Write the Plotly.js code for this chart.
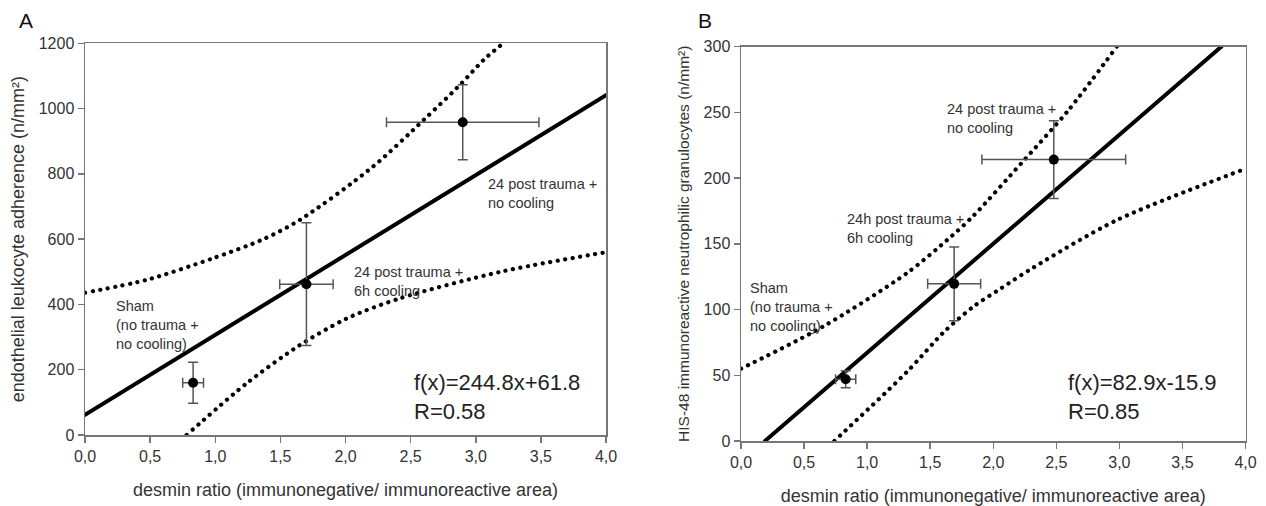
<!DOCTYPE html>
<html>
<head>
<meta charset="utf-8">
<script src="https://cdn.plot.ly/plotly-3.0.1.min.js"></script>
<style>
html,body{margin:0;padding:0;background:#fff;}
#chart{width:1266px;height:506px;}
#chart path.js-line{stroke-linecap:round !important;}
</style>
</head>
<body>
<div id="chart"></div>
<script>
// ---------- shared ticks ----------
const xTickVals = [0, 0.5, 1, 1.5, 2, 2.5, 3, 3.5, 4];
const xTickText = ['0,0', '0,5', '1,0', '1,5', '2,0', '2,5', '3,0', '3,5', '4,0'];
const groupNames = ['Sham', '24 post trauma + 6h cooling', '24 post trauma + no cooling'];

// ---------- panel A ----------
const aMeanX = [0.83, 1.70, 2.90];
const aMeanY = [160, 462, 958];
const aErrX = [0.08, 0.205, 0.585];
const aErrY = [63, 188, 115];
const aFitX = [0, 4];
const aFitY = [61.8, 1041];
const aUpperX = [0, 0.47, 0.98, 1.37, 1.65, 2.21, 2.6, 2.89, 3.06, 3.21];
const aUpperY = [436, 475, 541, 600, 659, 822, 965, 1077, 1149, 1200];
const aLowerX = [0.78, 1.24, 1.64, 2.01, 2.42, 3.19, 4.0];
const aLowerY = [0, 158, 273, 357, 419, 500, 560];
const aYTicks = [0, 200, 400, 600, 800, 1000, 1200];

// ---------- panel B ----------
const bMeanX = [0.83, 1.69, 2.48];
const bMeanY = [47, 119.5, 214];
const bErrX = [0.08, 0.21, 0.57];
const bErrY = [6.5, 28, 29.5];
const bFitX = [0.19, 3.81];
const bFitY = [0, 300];
const bUpperX = [0, 0.65, 1.32, 1.66, 1.84, 2.23, 2.6, 2.98];
const bUpperY = [55, 87, 128, 155, 171, 212, 252, 300];
const bLowerX = [0.74, 1.32, 1.61, 1.84, 2.06, 2.32, 2.98, 4.0];
const bLowerY = [0, 53, 83, 102, 116, 132, 168, 207];
const bYTicks = [0, 50, 100, 150, 200, 250, 300];

const FONT = 'Liberation Sans, Arial, sans-serif';
const W = 1266, H = 506;
const px = v => v / W;
const py = v => 1 - v / H;

const dotLine = {color: '#000', width: 4.2, dash: '0.1px,7.5px', shape: 'spline', smoothing: 0.8};
const fitLine = {color: '#000', width: 4};

function bandTrace(x, y, xa, ya) {
  return {x: x, y: y, xaxis: xa, yaxis: ya, type: 'scatter', mode: 'lines', line: dotLine, hoverinfo: 'skip', showlegend: false};
}
function fitTrace(x, y, xa, ya) {
  return {x: x, y: y, xaxis: xa, yaxis: ya, type: 'scatter', mode: 'lines', line: fitLine, showlegend: false};
}
function meanTrace(x, y, ex, ey, xa, ya) {
  return {
    x: x, y: y, xaxis: xa, yaxis: ya, type: 'scatter', mode: 'markers', text: groupNames,
    marker: {color: '#000', size: 10},
    error_x: {type: 'data', array: ex, visible: true, color: '#555', thickness: 1.5, width: 5},
    error_y: {type: 'data', array: ey, visible: true, color: '#555', thickness: 1.5, width: 5},
    showlegend: false, cliponaxis: false
  };
}

const data = [
  bandTrace(aUpperX, aUpperY, 'x', 'y'),
  bandTrace(aLowerX, aLowerY, 'x', 'y'),
  fitTrace(aFitX, aFitY, 'x', 'y'),
  meanTrace(aMeanX, aMeanY, aErrX, aErrY, 'x', 'y'),
  bandTrace(bUpperX, bUpperY, 'x2', 'y2'),
  bandTrace(bLowerX, bLowerY, 'x2', 'y2'),
  fitTrace(bFitX, bFitY, 'x2', 'y2'),
  meanTrace(bMeanX, bMeanY, bErrX, bErrY, 'x2', 'y2')
];

const axisCommon = {
  showline: true, mirror: true, linecolor: '#777', linewidth: 1.5,
  ticks: 'outside', ticklen: 6, tickcolor: '#777', tickwidth: 1.5,
  showgrid: false, zeroline: false,
  tickfont: {family: FONT, size: 16, color: '#333'}
};

const xTitle = 'desmin ratio (immunonegative/ immunoreactive area)';

const layout = {
  width: W, height: H,
  margin: {l: 0, r: 0, t: 0, b: 0},
  paper_bgcolor: '#fff', plot_bgcolor: '#fff',
  showlegend: false,
  font: {family: FONT, color: '#333'},
  xaxis: Object.assign({}, axisCommon, {
    domain: [px(85), px(606)], range: [0, 4], tickvals: xTickVals, ticktext: xTickText, anchor: 'y',
    title: {text: xTitle, font: {family: FONT, size: 18, color: '#333'}, standoff: 19}
  }),
  yaxis: Object.assign({}, axisCommon, {
    domain: [py(435), py(43.3)], range: [0, 1200], tickvals: aYTicks, anchor: 'x',
    title: {text: 'endothelial leukocyte adherence (n/mm²)', font: {family: FONT, size: 18, color: '#333'}, standoff: 9}
  }),
  xaxis2: Object.assign({}, axisCommon, {
    domain: [px(741), px(1245.5)], range: [0, 4], tickvals: xTickVals, ticktext: xTickText, anchor: 'y2',
    title: {text: xTitle, font: {family: FONT, size: 18, color: '#333'}, standoff: 19}
  }),
  yaxis2: Object.assign({}, axisCommon, {
    domain: [py(441), py(46.5)], range: [0, 300], tickvals: bYTicks, anchor: 'x2',
    title: {text: 'HIS-48 immunoreactive neutrophilic granulocytes (n/mm²)', font: {family: FONT, size: 15.5, color: '#333'}, standoff: 10}
  }),
  annotations: [
    {text: 'A', x: px(25.5), y: py(20.5), xref: 'paper', yref: 'paper', xanchor: 'center', yanchor: 'middle', showarrow: false, font: {family: FONT, size: 21, color: '#111'}},
    {text: 'B', x: px(705), y: py(20.5), xref: 'paper', yref: 'paper', xanchor: 'center', yanchor: 'middle', showarrow: false, font: {family: FONT, size: 21, color: '#111'}},
    {text: 'Sham<br>(no trauma +<br>no cooling)', x: px(114), y: py(296), xref: 'paper', yref: 'paper', xanchor: 'left', yanchor: 'top', align: 'left', showarrow: false, font: {family: FONT, size: 14.5, color: '#333'}},
    {text: '24 post trauma +<br>6h cooling', x: px(352), y: py(261.5), xref: 'paper', yref: 'paper', xanchor: 'left', yanchor: 'top', align: 'left', showarrow: false, font: {family: FONT, size: 14.5, color: '#333'}},
    {text: '24 post trauma +<br>no cooling', x: px(486), y: py(174), xref: 'paper', yref: 'paper', xanchor: 'left', yanchor: 'top', align: 'left', showarrow: false, font: {family: FONT, size: 14.5, color: '#333'}},
    {text: 'f(x)=244.8x+61.8<br>R=0.58', x: px(412), y: py(368), xref: 'paper', yref: 'paper', xanchor: 'left', yanchor: 'top', align: 'left', showarrow: false, font: {family: FONT, size: 22, color: '#222'}},
    {text: '24 post trauma +<br>no cooling', x: px(945), y: py(99), xref: 'paper', yref: 'paper', xanchor: 'left', yanchor: 'top', align: 'left', showarrow: false, font: {family: FONT, size: 14.5, color: '#333'}},
    {text: '24h post trauma +<br>6h cooling', x: px(845), y: py(209), xref: 'paper', yref: 'paper', xanchor: 'left', yanchor: 'top', align: 'left', showarrow: false, font: {family: FONT, size: 14.5, color: '#333'}},
    {text: 'Sham<br>(no trauma +<br>no cooling)', x: px(748), y: py(278), xref: 'paper', yref: 'paper', xanchor: 'left', yanchor: 'top', align: 'left', showarrow: false, font: {family: FONT, size: 14.5, color: '#333'}},
    {text: 'f(x)=82.9x-15.9<br>R=0.85', x: px(1066), y: py(368), xref: 'paper', yref: 'paper', xanchor: 'left', yanchor: 'top', align: 'left', showarrow: false, font: {family: FONT, size: 22, color: '#222'}}
  ]
};

Plotly.newPlot('chart', data, layout, {staticPlot: true, displayModeBar: false});
</script>
</body>
</html>
